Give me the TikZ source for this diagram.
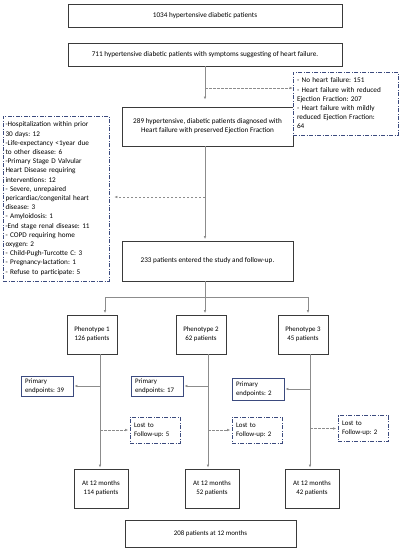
\documentclass[tikz,border=0pt]{standalone}
\usepackage{fontspec}
\setmainfont{Carlito}
\usetikzlibrary{arrows.meta}
\definecolor{navy}{HTML}{3B4A7E}
\definecolor{conn}{HTML}{8C8C8C}
\definecolor{boxline}{HTML}{3A3A3A}
\frenchspacing
\begin{document}
\frenchspacing
\begin{tikzpicture}[x=1pt,y=-1pt,
  bigfont/.style={font=\fontsize{7.2}{9.2}\selectfont\frenchspacing},
  smallfont/.style={font=\fontsize{6.9}{9}\selectfont\frenchspacing},
  sbox/.style={draw=boxline, line width=0.8pt, fill=white, align=center, inner sep=0pt},
  dbox/.style={draw=navy, line width=0.7pt, fill=white, align=left, inner sep=0pt,
     dash pattern=on 4pt off 1.5pt on 1pt off 1.5pt},
  pbox/.style={draw=navy, line width=0.8pt, fill=white, align=left, inner sep=0pt},
  tip/.style={-{Latex[length=3pt,width=2.6pt]}},
  cline/.style={draw=conn, line width=0.6pt},
  dline/.style={draw=conn, line width=0.6pt, dash pattern=on 2.5pt off 1.5pt},
]
\useasboundingbox (0,0) rectangle (400,550);

% main column
\node[sbox,bigfont,minimum width=274pt,minimum height=23pt] (b1) at (205,15.5)
  {1034 hypertensive diabetic patients};
\node[sbox,bigfont,minimum width=274pt,minimum height=23pt] (b2) at (205,54.5)
  {711 hypertensive diabetic patients with symptoms suggesting of heart failure.};
\node[sbox,bigfont,minimum width=171pt,minimum height=39pt] (b3) at (207.5,126.5)
  {289 hypertensive, diabetic patients diagnosed with\\Heart failure with preserved Ejection Fraction};
\node[sbox,bigfont,minimum width=171pt,minimum height=40pt] (b4) at (207.5,261)
  {233 patients entered the study and follow-up.};

% exclusion boxes
\node[dbox,bigfont,text width=97pt,inner xsep=4pt,minimum height=63pt] (rx) at (345.5,103.5)
  {- No heart failure: 151\\- Heart failure with reduced\\Ejection Fraction: 207\\- Heart failure with mildly\\reduced Ejection Fraction:\\64};
\node[dbox,bigfont,text width=101pt,inner xsep=2.5pt,minimum height=165pt] (lx) at (56,198.5)
  {-Hospitalization within prior\\30 days: 12\\-Life-expectancy <1year due\\to other disease: 6\\-Primary Stage D Valvular\\Heart Disease requiring\\interventions: 12\\- Severe, unrepaired\\pericardiac/congenital heart\\disease: 3\\- Amyloidosis: 1\\-End stage renal disease: 11\\- COPD requiring home\\oxygen: 2\\- Child-Pugh-Turcotte C: 3\\- Pregnancy-lactation: 1\\- Refuse to participate: 5};

% phenotypes
\node[sbox,smallfont,minimum width=50pt,minimum height=39pt] (p1) at (92,334.5) {Phenotype 1\\126 patients};
\node[sbox,smallfont,minimum width=50pt,minimum height=39pt] (p2) at (201,334.5) {Phenotype 2\\62 patients};
\node[sbox,smallfont,minimum width=50pt,minimum height=39pt] (p3) at (303,334.5) {Phenotype 3\\45 patients};

% primary endpoints
\node[pbox,smallfont,text width=44pt,inner xsep=4pt,minimum height=20pt] (pe1) at (47,386) {Primary\\endpoints: 39};
\node[pbox,smallfont,text width=44pt,inner xsep=4pt,minimum height=20pt] (pe2) at (157,386) {Primary\\endpoints: 17};
\node[pbox,smallfont,text width=44pt,inner xsep=4pt,minimum height=22pt] (pe3) at (258,389) {Primary\\endpoints: 2};

% lost to follow-up
\node[dbox,smallfont,text width=42pt,inner xsep=4pt,minimum height=26pt] (lf1) at (155,430) {Lost to\\Follow-up: 5};
\node[dbox,smallfont,text width=42pt,inner xsep=4pt,minimum height=26pt] (lf2) at (257,430) {Lost to\\Follow-up: 2};
\node[dbox,smallfont,text width=42pt,inner xsep=4pt,minimum height=26pt] (lf3) at (363,428.5) {Lost to\\Follow-up: 2};

% at 12 months
\node[sbox,smallfont,minimum width=54pt,minimum height=39pt] (a1) at (101,488.5) {At 12 months\\114 patients};
\node[sbox,smallfont,minimum width=54pt,minimum height=39pt] (a2) at (212,488.5) {At 12 months\\52 patients};
\node[sbox,smallfont,minimum width=54pt,minimum height=39pt] (a3) at (312,488.5) {At 12 months\\42 patients};

\node[sbox,smallfont,minimum width=171pt,minimum height=27pt] (fin) at (210.5,533.5) {208 patients at 12 months};

% connectors, top part
\coordinate (j1) at (205,88);
\coordinate (j2) at (205,197);
\draw[cline,tip,shorten >=7pt] (b2.south) -- (b2.south |- b3.north);
\draw[dline,tip] (j1) -- (rx.west |- j1);
\draw[cline,tip,shorten >=1.5pt] (b2.south |- b3.south) -- (b2.south |- b4.north);
\draw[dline,tip,shorten >=5pt] (j2) -- (lx.east |- j2);

% branch
\coordinate (br) at (205,297);
\coordinate (bl) at (105,297);
\coordinate (bR) at (308,297);
\draw[cline] (b4.south -| br) -- (br);
\draw[cline] (bl) -- (bR);
\draw[cline,tip,shorten >=1.5pt] (bl) -- (p1.north -| bl);
\draw[cline,tip,shorten >=1.5pt] (br) -- (p2.north -| br);
\draw[cline,tip,shorten >=1.5pt] (bR) -- (p3.north -| bR);

% phenotype columns
\coordinate (v1) at (100,354);
\coordinate (v2) at (208,354);
\coordinate (v3) at (310,354);
\draw[cline,tip,shorten >=1pt] (v1) -- (a1.north -| v1);
\draw[cline,tip,shorten >=1pt] (v2) -- (a2.north -| v2);
\draw[cline,tip,shorten >=1pt] (v3) -- (a3.north -| v3);

\draw[cline,tip,shorten >=1pt] (pe1.east -| v1) -- (pe1.east);
\draw[cline,tip,shorten >=1pt] (pe2.east -| v2) -- (pe2.east);
\draw[cline,tip,shorten >=1pt] (pe3.east -| v3) -- (pe3.east);

\draw[dline,tip,shorten >=1.5pt] (lf1.west -| v1) -- (lf1.west);
\draw[dline,tip,shorten >=1.5pt] (lf2.west -| v2) -- (lf2.west);
\draw[dline,tip,shorten >=1.5pt] (lf3.west -| v3) -- (lf3.west);
\end{tikzpicture}
\end{document}
